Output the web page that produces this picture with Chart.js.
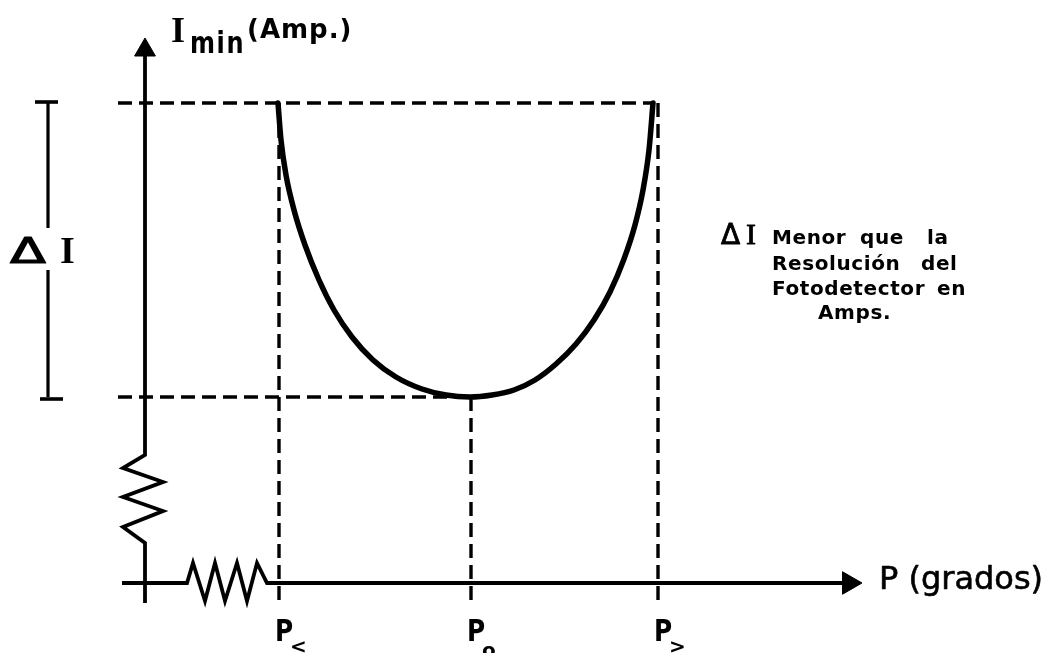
<!DOCTYPE html>
<html>
<head>
<meta charset="utf-8">
<script src="https://cdn.jsdelivr.net/npm/chart.js@4/dist/chart.umd.min.js"></script>
<style>
  html, body { margin: 0; padding: 0; background: #ffffff; }
  #wrap { width: 1054px; height: 653px; }
</style>
</head>
<body>
<div id="wrap"><canvas id="c" width="1054" height="653"></canvas></div>
<script>
// Diagram units: origin where the two axes cross, P to the right, I upwards.

// Minimum current versus polarizer angle P (the U-shaped response)
const curveP = [133, 136, 141, 149, 160, 174, 189, 207, 228, 251, 277, 301, 325,
                347, 369, 390, 411, 431, 449, 465, 479, 490, 498, 504, 508];
const curveI = [480, 443, 408, 373, 338, 303, 273, 246, 223, 206, 194, 188, 186,
                188, 193, 203, 219, 239, 263, 291, 324, 358, 393, 433, 480];

// Characteristic angles on the P axis and their labels
const pMarks = [134, 326, 513];
const pMarkNames = ['P<', 'Po', 'P>'];

// Current levels: the minimum and the level at P< / P>
const iLevels = [186, 480];

// Extent of the drawing
const pRange = [-145, 909];
const iRange = [-70, 583];

// Axis geometry (including the resistor zig-zags drawn on each axis)
const pAxisP = [-23, 42, 48, 60, 70, 80, 92, 102, 112, 122, 700];
const pAxisI = [0, 0, 20, -18, 20, -18, 20, -18, 20, 0, 0];
const iAxisP = [0, 0, -22, 18, -22, 18, -22, 0, 0];
const iAxisI = [-20, 40, 56, 72, 86, 101, 115, 128, 530];

// Delta-I dimension marker on the left
const dimP = -97;
const dimGap = [313, 355];

const toPts = (xs, ys) => xs.map((x, i) => ({ x: x, y: ys[i] }));
const line = (pts, extra) => Object.assign({
  data: pts, showLine: true, pointRadius: 0, borderColor: '#000',
  borderWidth: 3, fill: false, tension: 0, borderCapStyle: 'butt'
}, extra || {});
const dashed = pts => line(pts, { borderDash: [14, 7], borderWidth: 3.4 });

const datasets = [
  // guide lines
  dashed([{ x: -27, y: iLevels[1] }, { x: curveP[curveP.length - 1], y: iLevels[1] }]),
  dashed([{ x: -27, y: iLevels[0] }, { x: pMarks[1], y: iLevels[0] }]),
  dashed([{ x: pMarks[0], y: iLevels[1] }, { x: pMarks[0], y: -20 }]),
  dashed([{ x: pMarks[1], y: iLevels[0] }, { x: pMarks[1], y: -20 }]),
  dashed([{ x: pMarks[2], y: iLevels[1] }, { x: pMarks[2], y: -20 }]),
  // axes
  line(toPts(pAxisP, pAxisI), { borderWidth: 3.8, borderJoinStyle: 'miter' }),
  line(toPts(iAxisP, iAxisI), { borderWidth: 3.8, borderJoinStyle: 'miter' }),
  // arrow heads
  { data: [{ x: 0, y: 533 }], pointStyle: 'triangle', pointRadius: 12, pointRotation: 0,
    backgroundColor: '#000', borderColor: '#000', borderWidth: 1 },
  { data: [{ x: 704, y: 0 }], pointStyle: 'triangle', pointRadius: 13, pointRotation: 90,
    backgroundColor: '#000', borderColor: '#000', borderWidth: 1 },
  // Delta-I dimension line with end bars
  line([{ x: dimP, y: iLevels[1] }, { x: dimP, y: dimGap[1] }], { borderWidth: 3.2 }),
  line([{ x: dimP, y: dimGap[0] }, { x: dimP, y: iLevels[0] }], { borderWidth: 3.2 }),
  line([{ x: dimP - 13, y: iLevels[1] + 1 }, { x: dimP + 10, y: iLevels[1] + 1 }], { borderWidth: 3.6 }),
  line([{ x: dimP - 8, y: iLevels[0] - 2 }, { x: dimP + 15, y: iLevels[0] - 2 }], { borderWidth: 3.6 }),
  // response curve
  line(toPts(curveP, curveI), { borderWidth: 5.5, cubicInterpolationMode: 'monotone', borderCapStyle: 'round' })
];

const annotations = {
  id: 'annotations',
  afterDatasetsDraw(chart) {
    const c = chart.ctx;
    const xs = chart.scales.x;
    c.save();
    c.fillStyle = '#000';
    c.strokeStyle = '#000';
    c.lineJoin = 'round';
    c.textBaseline = 'alphabetic';
    c.textAlign = 'left';

    // vertical axis title: I_min (Amp.)
    c.font = 'bold 36px "Liberation Serif"';
    c.fillText('I', 171, 42);
    c.save();
    c.translate(190, 53);
    c.scale(0.8, 1);
    c.letterSpacing = '2px';
    c.font = 'bold 30px "DejaVu Sans"';
    c.fillText('min', 0, 0);
    c.restore();
    c.letterSpacing = '1px';
    c.font = 'bold 26px "DejaVu Sans"';
    c.fillText('(Amp.)', 247, 38);
    c.letterSpacing = '0px';

    // Delta-I label beside the dimension line
    c.save();
    c.translate(10, 263);
    c.scale(1.5, 1);
    c.font = '35px "DejaVu Sans"';
    c.lineWidth = 1.2;
    c.fillText('\u0394', 0, 0);
    c.strokeText('\u0394', 0, 0);
    c.restore();
    c.font = 'bold 38px "Liberation Serif"';
    c.fillText('I', 60, 263);

    // horizontal axis title
    c.font = '32px "DejaVu Sans"';
    c.lineWidth = 0.6;
    c.fillText('P (grados)', 879, 589);
    c.strokeText('P (grados)', 879, 589);

    // tick labels under the P axis
    pMarks.forEach((p, i) => {
      const px = xs.getPixelForValue(p);
      const name = pMarkNames[i];
      c.save();
      c.translate(px - 4, 641);
      c.scale(0.8, 1);
      c.font = 'bold 31px "DejaVu Sans"';
      c.fillText(name[0], 0, 0);
      c.restore();
      c.font = 'bold 20px "DejaVu Sans"';
      c.fillText(name.slice(1), px + 11, name[1] === 'o' ? 657 : 653);
    });

    // note on the right
    c.font = '28px "DejaVu Sans"';
    c.lineWidth = 0.8;
    c.fillText('\u0394', 721, 244);
    c.strokeText('\u0394', 721, 244);
    c.font = '30px "Liberation Serif"';
    c.fillText('I', 746, 244);
    c.strokeText('I', 746, 244);
    c.font = 'bold 20px "DejaVu Sans"';
    c.letterSpacing = '0.6px';
    const words = [
      ['Menor', 772, 244], ['que', 860, 244], ['la', 927, 244],
      ['Resolución', 772, 270], ['del', 921, 270],
      ['Fotodetector', 772, 295], ['en', 937, 295],
      ['Amps.', 818, 319]
    ];
    words.forEach(w => c.fillText(w[0], w[1], w[2]));
    c.restore();
  }
};

new Chart(document.getElementById('c'), {
  type: 'scatter',
  data: { datasets: datasets },
  options: {
    responsive: false,
    animation: false,
    events: [],
    layout: { padding: 0, autoPadding: false },
    plugins: { legend: { display: false }, tooltip: { enabled: false } },
    scales: {
      x: { type: 'linear', min: pRange[0], max: pRange[1], display: false },
      y: { type: 'linear', min: iRange[0], max: iRange[1], display: false }
    }
  },
  plugins: [annotations]
});
</script>
</body>
</html>
